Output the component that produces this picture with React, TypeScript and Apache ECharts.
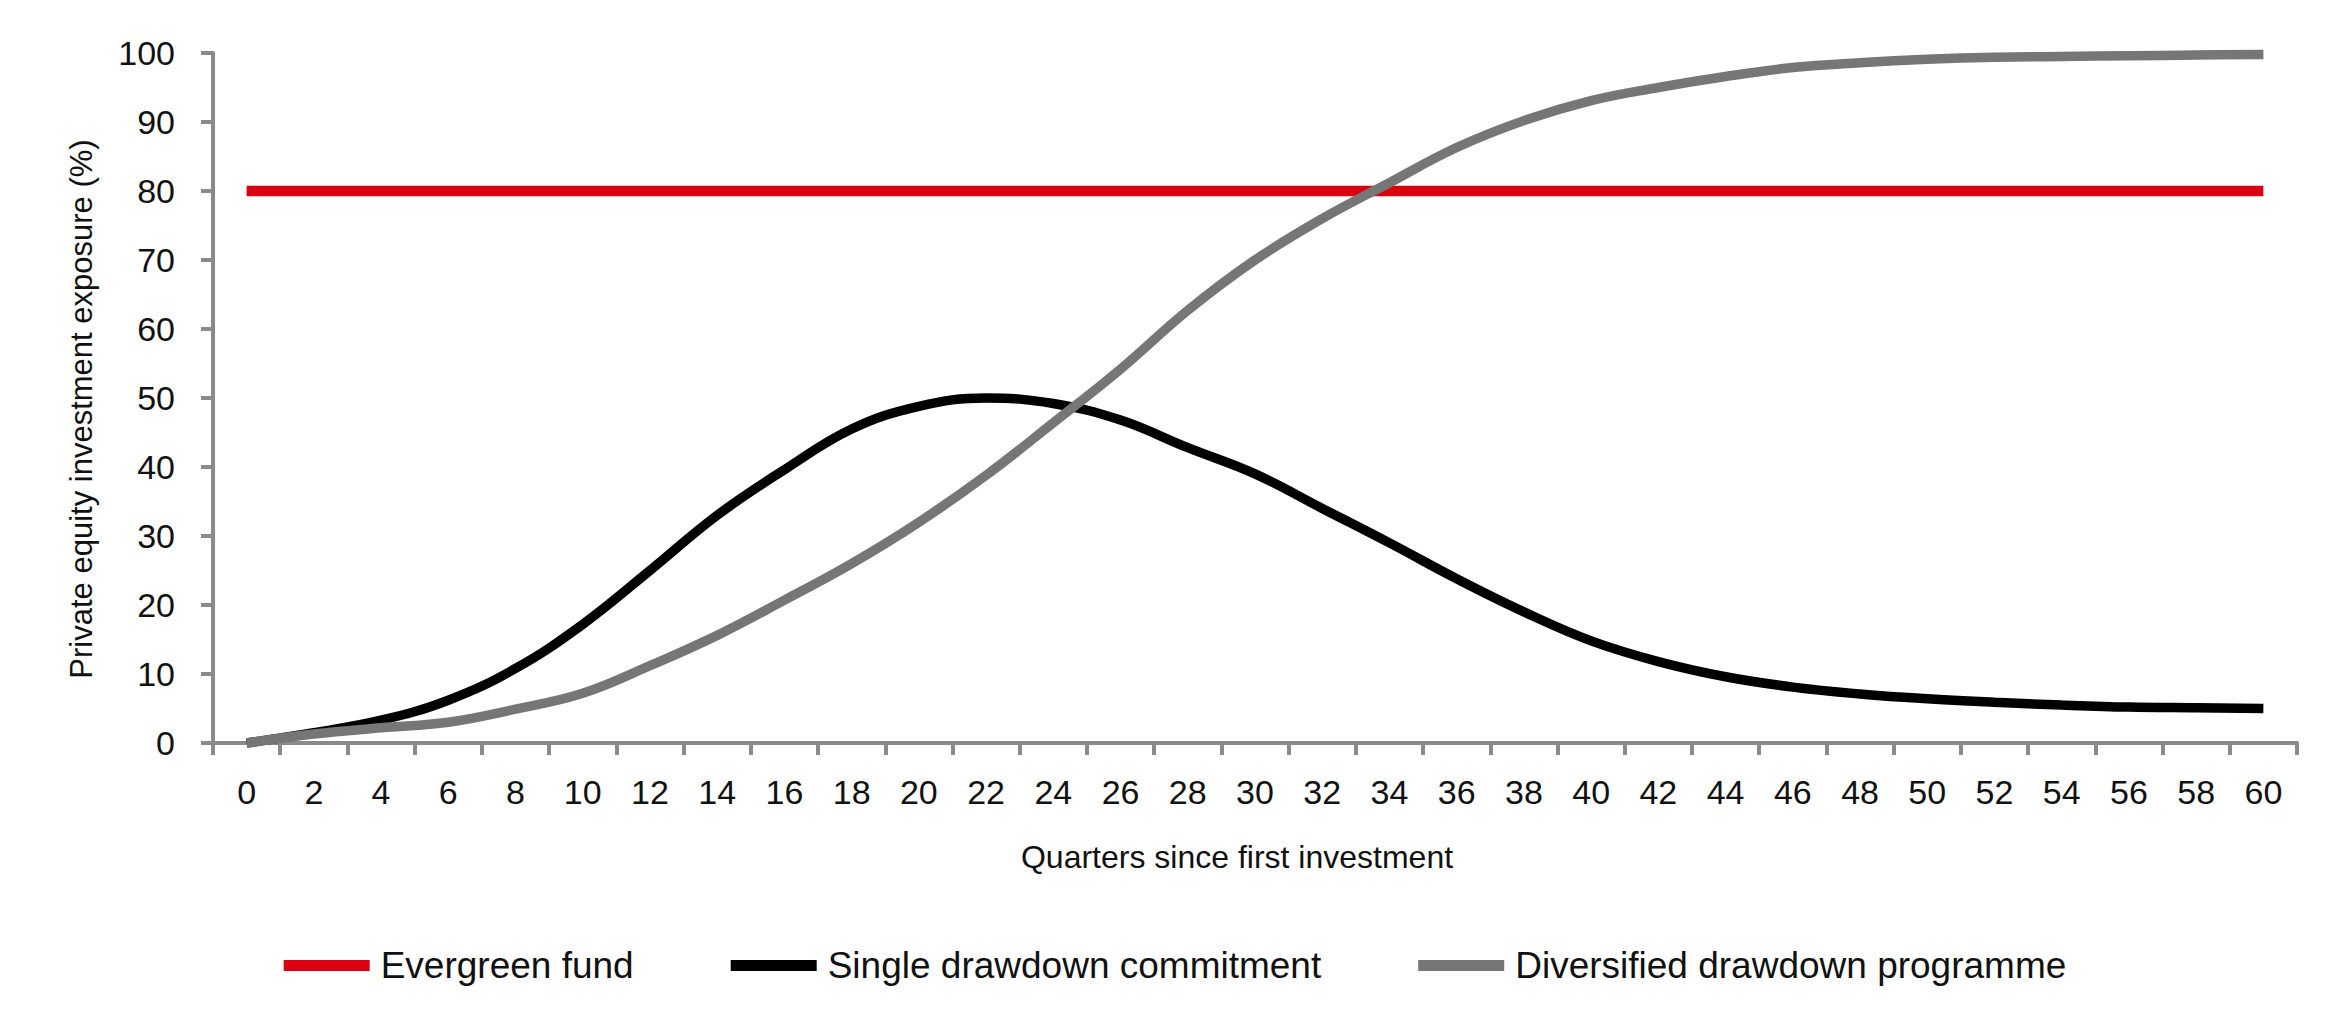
import React, { useEffect, useRef } from "react";
import * as echarts from "echarts";

const quarters = [
	"0", "2", "4", "6", "8", "10", "12", "14", "16", "18", "20",
	"22", "24", "26", "28", "30", "32", "34", "36", "38", "40",
	"42", "44", "46", "48", "50", "52", "54", "56", "58", "60",
];

const evergreen = [
	80, 80, 80, 80, 80, 80, 80, 80, 80, 80, 80,
	80, 80, 80, 80, 80, 80, 80, 80, 80, 80,
	80, 80, 80, 80, 80, 80, 80, 80, 80, 80,
];

const singleDrawdown = [
	0, 1.5, 3.3, 6.2, 10.8, 17.2, 25, 33, 39.6, 45.5, 48.8,
	50, 49.2, 46.8, 42.8, 39, 34, 29, 23.8, 19, 14.8,
	11.8, 9.6, 8.1, 7.1, 6.4, 5.9, 5.5, 5.2, 5.1, 5,
];

const diversified = [
	0, 1.3, 2.2, 3, 4.9, 7.2, 11.2, 15.6, 20.7, 26, 32,
	38.8, 46.4, 54.2, 62.7, 70, 76, 81.2, 86.3, 90.2, 93.1,
	95, 96.6, 97.9, 98.6, 99.1, 99.4, 99.5, 99.6, 99.7, 99.8,
];

const FONT = "'Liberation Sans', Arial, sans-serif";
const AXIS_GREY = "#8a8a8a";

export default function App() {
	const chartRef = useRef<HTMLDivElement>(null);

	useEffect(() => {
		if (!chartRef.current) return;
		document.body.style.margin = "0";
		const chart = echarts.init(chartRef.current, null, { renderer: "svg" });

		chart.setOption({
			animation: false,
			backgroundColor: "#fff",
			textStyle: { fontFamily: FONT, color: "#111" },
			grid: { left: 213, right: 53, top: 53, bottom: 291 },
			legend: {
				bottom: 45,
				left: "center",
				itemWidth: 86,
				itemHeight: 11,
				itemGap: 97,
				icon: "rect",
				textStyle: { fontSize: 37, color: "#111", fontFamily: FONT, padding: [0, 0, 0, 6] },
				data: ["Evergreen fund", "Single drawdown commitment", "Diversified drawdown programme"],
			},
			xAxis: {
				type: "category",
				data: quarters,
				boundaryGap: true,
				name: "Quarters since first investment",
				nameLocation: "middle",
				nameGap: 98,
				// nudged left a little, as in the source
				nameTextStyle: { fontSize: 32, color: "#111", padding: [0, 36, 0, 0] },
				axisLine: { lineStyle: { color: AXIS_GREY, width: 4 } },
				axisTick: { show: true, inside: false, length: 12, lineStyle: { color: AXIS_GREY, width: 4 } },
				axisLabel: { fontSize: 34, color: "#111", margin: 32, interval: 0 },
				splitLine: { show: false },
			},
			yAxis: {
				type: "value",
				min: 0,
				max: 100,
				interval: 10,
				name: "Private equity investment exposure (%)",
				nameLocation: "middle",
				nameGap: 116,
				nameTextStyle: { fontSize: 31, color: "#111", padding: [0, 22, 0, 0] },
				axisLine: { show: true, lineStyle: { color: AXIS_GREY, width: 4 } },
				axisTick: { show: true, inside: false, length: 12, lineStyle: { color: AXIS_GREY, width: 4 } },
				axisLabel: { fontSize: 34, color: "#111", margin: 38 },
				splitLine: { show: false },
			},
			series: [
				{
					name: "Evergreen fund",
					type: "line",
					data: evergreen,
					showSymbol: false,
					lineStyle: { color: "#DB0011", width: 10.5, cap: "butt" },
					itemStyle: { color: "#DB0011" },
					z: 2,
				},
				{
					name: "Single drawdown commitment",
					type: "line",
					data: singleDrawdown,
					smooth: 0.4,
					showSymbol: false,
					lineStyle: { color: "#000", width: 9.5, cap: "butt" },
					itemStyle: { color: "#000" },
					z: 3,
				},
				{
					name: "Diversified drawdown programme",
					type: "line",
					data: diversified,
					smooth: 0.4,
					showSymbol: false,
					lineStyle: { color: "#767676", width: 9.5, cap: "butt" },
					itemStyle: { color: "#767676" },
					z: 4,
				},
			],
		});

		const onResize = () => chart.resize();
		window.addEventListener("resize", onResize);
		return () => {
			window.removeEventListener("resize", onResize);
			chart.dispose();
		};
	}, []);

	return <div ref={chartRef} style={{ width: 2350, height: 1034 }} />;
}
